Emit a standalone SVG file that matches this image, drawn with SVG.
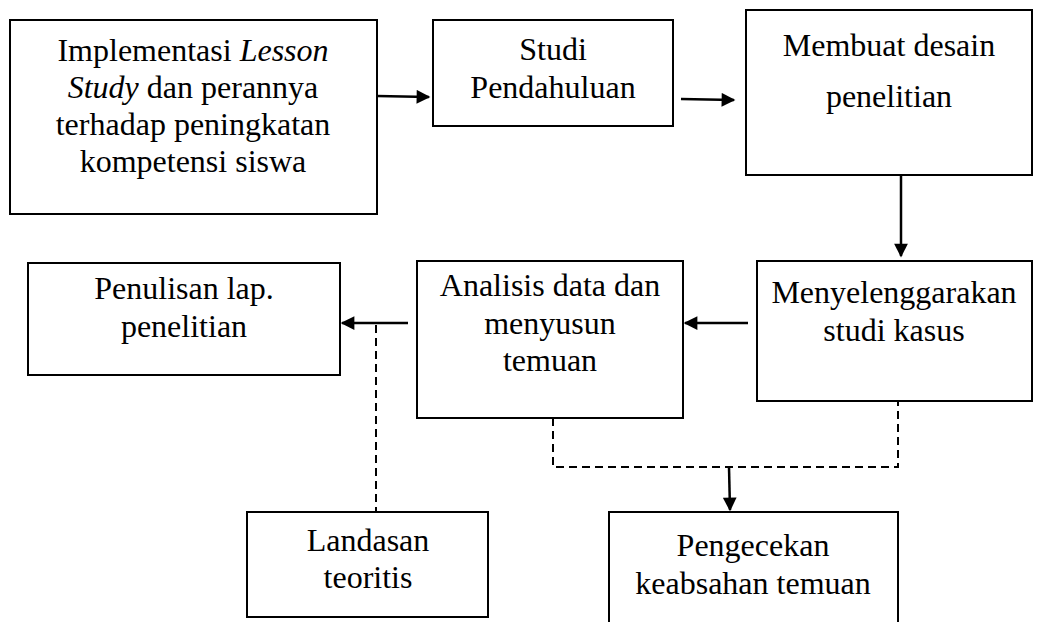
<svg xmlns="http://www.w3.org/2000/svg" width="1043" height="622" viewBox="0 0 1043 622">
<style>
.box{fill:#fff;stroke:#000;stroke-width:2}
.t{font-family:"Liberation Serif","Times New Roman",serif;font-size:32px;fill:#000;text-anchor:middle}
.a{stroke:#000;stroke-width:2.5;fill:none}
.d{stroke:#000;stroke-width:2;fill:none;stroke-dasharray:8 5}
</style>
<defs>
<marker id="ah" viewBox="0 0 10 10" refX="9" refY="5" markerWidth="6" markerHeight="5.5" markerUnits="strokeWidth" orient="auto">
<path d="M0,0 L10,5 L0,10 Z" fill="#000"/>
</marker>
</defs>
<rect width="1043" height="622" fill="#fff"/>
<g id="n1"><rect class="box" x="10" y="20" width="367" height="194"/>
<text class="t" x="193" y="61">Implementasi <tspan font-style="italic">Lesson</tspan></text>
<text class="t" x="193" y="98"><tspan font-style="italic">Study</tspan> dan perannya</text>
<text class="t" x="193" y="135">terhadap peningkatan</text>
<text class="t" x="193" y="172">kompetensi siswa</text></g>
<g id="n2"><rect class="box" x="433" y="20" width="240" height="106"/>
<text class="t" x="553" y="60">Studi</text>
<text class="t" x="553" y="98">Pendahuluan</text></g>
<g id="n3"><rect class="box" x="746" y="10" width="286" height="165"/>
<text class="t" x="889" y="56">Membuat desain</text>
<text class="t" x="889" y="107">penelitian</text></g>
<g id="n4"><rect class="box" x="757" y="261" width="275" height="140"/>
<text class="t" x="894" y="303">Menyelenggarakan</text>
<text class="t" x="894" y="341">studi kasus</text></g>
<g id="n5"><rect class="box" x="417" y="261" width="266" height="157"/>
<text class="t" x="550" y="296">Analisis data dan</text>
<text class="t" x="550" y="334">menyusun</text>
<text class="t" x="550" y="371">temuan</text></g>
<g id="n6"><rect class="box" x="28" y="263" width="312" height="112"/>
<text class="t" x="184" y="299">Penulisan lap.</text>
<text class="t" x="184" y="337">penelitian</text></g>
<g id="n7"><rect class="box" x="247" y="512" width="241" height="105"/>
<text class="t" x="368" y="551">Landasan</text>
<text class="t" x="368" y="588">teoritis</text></g>
<g id="n8"><rect class="box" x="609" y="512" width="289" height="130"/>
<text class="t" x="753" y="556">Pengecekan</text>
<text class="t" x="753" y="594">keabsahan temuan</text></g>
<g id="connectors">
<line class="a" x1="377" y1="96" x2="429" y2="97" marker-end="url(#ah)"/>
<line class="a" x1="681" y1="99" x2="734" y2="100" marker-end="url(#ah)"/>
<line class="a" x1="901" y1="175" x2="901" y2="256" marker-end="url(#ah)"/>
<line class="a" x1="748" y1="323" x2="685" y2="323" marker-end="url(#ah)"/>
<line class="a" x1="408" y1="323" x2="342" y2="323" marker-end="url(#ah)"/>
<line class="d" x1="376" y1="325" x2="376" y2="512"/>
<polyline class="d" points="553,418 553,467 898,467 898,401"/>
<line class="a" x1="729" y1="467" x2="730" y2="510" marker-end="url(#ah)"/>
</g>
</svg>
